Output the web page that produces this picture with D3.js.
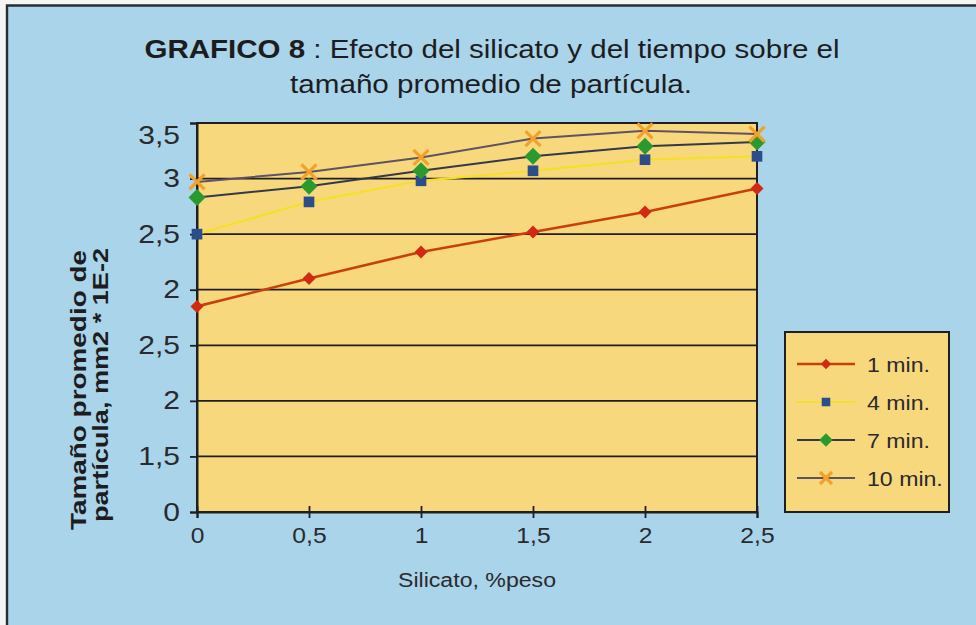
<!DOCTYPE html>
<html><head><meta charset="utf-8">
<script src="https://cdn.jsdelivr.net/npm/d3@7"></script>
<style>
html,body{margin:0;padding:0;background:#fff;}
svg{display:block;font-family:"Liberation Sans",Arial,Helvetica,sans-serif;}
</style>
</head><body>
<svg id="chart" width="976" height="625"></svg>
<script>
// Silicate content (% weight) on the x axis
const silicato = [0, 0.5, 1, 1.5, 2, 2.5];
const xTickLabels = ["0", "0,5", "1", "1,5", "2", "2,5"];
// Y axis gridline positions and the labels printed next to them
const yTickValues = [0, 0.5, 1, 1.5, 2, 2.5, 3, 3.5];
const yTickLabels = ["0", "1,5", "2", "2,5", "2", "2,5", "3", "3,5"];

// Mean particle size (mm2 * 1E-2) for each mixing time
const seriesNames = ["1 min.", "4 min.", "7 min.", "10 min."];
const min1  = [1.85, 2.10, 2.34, 2.52, 2.70, 2.91];
const min4  = [2.50, 2.79, 2.98, 3.07, 3.17, 3.20];
const min7  = [2.83, 2.93, 3.07, 3.20, 3.29, 3.33];
const min10 = [2.97, 3.06, 3.19, 3.36, 3.43, 3.40];

const seriesStyles = [
  {values: min1,  line: "#c9400e", lw: 2.6, marker: "diamond", fill: "#d22a12", size: 13},
  {values: min4,  line: "#f4e02c", lw: 2.2, marker: "square",  fill: "#2c4d8c", size: 13},
  {values: min7,  line: "#34394a", lw: 2.0, marker: "diamond", fill: "#2b9a2e", size: 17},
  {values: min10, line: "#5e5264", lw: 2.0, marker: "x",       fill: "#f2a22a", size: 15}
];

const svg = d3.select("#chart");
const W = 976, H = 625;

// Widen text to the proportions of the printed typeface
function stretch(sel, k) {
  sel.each(function () {
    const w = this.getComputedTextLength();
    this.setAttribute("textLength", (w * k).toFixed(1));
    this.setAttribute("lengthAdjust", "spacingAndGlyphs");
  });
}
function fitTo(sel, len) {
  sel.attr("textLength", len).attr("lengthAdjust", "spacingAndGlyphs");
}

// Page background and frame
svg.append("rect").attr("width", W).attr("height", H).attr("fill", "#f4f6f6");
svg.append("rect").attr("x", 7).attr("y", 5).attr("width", W).attr("height", H)
  .attr("fill", "#a9d4ea");
svg.append("path").attr("d", `M7,${H} V5.5 H${W}`)
  .attr("fill", "none").attr("stroke", "#2a2c30").attr("stroke-width", 2.4);

// Title
const t1 = svg.append("text").attr("x", 492).attr("y", 58)
  .attr("text-anchor", "middle").attr("font-size", 26).attr("fill", "#1d1d1f");
t1.append("tspan").attr("font-weight", "bold").text("GRAFICO 8");
t1.append("tspan").text(" : Efecto del silicato y del tiempo sobre el");
fitTo(t1, 695);
const t2 = svg.append("text").attr("x", 491).attr("y", 93)
  .attr("text-anchor", "middle").attr("font-size", 26).attr("fill", "#1d1d1f")
  .text("tamaño promedio de partícula.");
fitTo(t2, 402);

// Plot area
const plot = {left: 197, right: 757, top: 123, bottom: 512};
const x = d3.scaleLinear().domain([0, 2.5]).range([plot.left, plot.right]);
const y = d3.scaleLinear().domain([0, 3.5]).range([plot.bottom, plot.top]);

svg.append("rect").attr("x", plot.left).attr("y", plot.top)
  .attr("width", plot.right - plot.left).attr("height", plot.bottom - plot.top)
  .attr("fill", "#f8d87c");

// Horizontal gridlines
svg.append("g").selectAll("line").data(yTickValues).join("line")
  .attr("x1", plot.left).attr("x2", plot.right)
  .attr("y1", d => y(d)).attr("y2", d => y(d))
  .attr("stroke", "#1f1f1f").attr("stroke-width", 1.8);

// Plot border
svg.append("rect").attr("x", plot.left).attr("y", plot.top)
  .attr("width", plot.right - plot.left).attr("height", plot.bottom - plot.top)
  .attr("fill", "none").attr("stroke", "#1f1f1f").attr("stroke-width", 2);

// Y axis
const yAxis = svg.append("g").attr("transform", `translate(${plot.left},0)`)
  .call(d3.axisLeft(y).tickValues(yTickValues).tickSize(7).tickPadding(10)
    .tickFormat((d, i) => yTickLabels[i]));
yAxis.select(".domain").attr("stroke", "#1f1f1f").attr("stroke-width", 2);
yAxis.selectAll(".tick line").attr("stroke", "#1f1f1f").attr("stroke-width", 1.8);
yAxis.selectAll(".tick text").attr("font-size", 25).attr("fill", "#2a2a2e")
  .attr("font-family", "Liberation Sans, Arial, sans-serif");
yAxis.selectAll(".tick text").filter(d => d === 3.5).attr("dy", "0.8em");
stretch(yAxis.selectAll(".tick text"), 1.2);

// X axis
const xAxis = svg.append("g").attr("transform", `translate(0,${plot.bottom})`)
  .call(d3.axisBottom(x).tickValues(silicato).tickSize(6).tickPadding(9)
    .tickFormat((d, i) => xTickLabels[i]));
xAxis.select(".domain").attr("stroke", "#1f1f1f").attr("stroke-width", 2);
xAxis.selectAll(".tick line").attr("y1", -6).attr("stroke", "#1f1f1f").attr("stroke-width", 1.8);
xAxis.selectAll(".tick text").attr("font-size", 22).attr("fill", "#2a2a2e")
  .attr("font-family", "Liberation Sans, Arial, sans-serif");
stretch(xAxis.selectAll(".tick text"), 1.12);

// Axis titles
const xt = svg.append("text").attr("x", 477).attr("y", 587).attr("text-anchor", "middle")
  .attr("font-size", 20).attr("fill", "#2a2a2e").text("Silicato, %peso");
fitTo(xt, 158);
const yt1 = svg.append("text").attr("transform", "translate(86,390) rotate(-90)")
  .attr("text-anchor", "middle").attr("font-size", 22).attr("font-weight", "bold")
  .attr("fill", "#1d1d1f").text("Tamaño promedio de");
fitTo(yt1, 280);
const yt2 = svg.append("text").attr("transform", "translate(108,385) rotate(-90)")
  .attr("text-anchor", "middle").attr("font-size", 22).attr("font-weight", "bold")
  .attr("fill", "#1d1d1f").text("partícula, mm2 * 1E-2");
fitTo(yt2, 274);

// Marker drawing
function drawMarker(g, s, cx, cy, scale) {
  const r = s.size * scale / 2;
  if (s.marker === "diamond") {
    g.append("path").attr("d", `M${cx},${cy - r}L${cx + r},${cy}L${cx},${cy + r}L${cx - r},${cy}Z`)
      .attr("fill", s.fill);
  } else if (s.marker === "square") {
    const h = r * 0.82;
    g.append("rect").attr("x", cx - h).attr("y", cy - h).attr("width", 2 * h).attr("height", 2 * h)
      .attr("fill", s.fill);
  } else {
    g.append("path").attr("d", `M${cx - r},${cy - r}L${cx + r},${cy + r}M${cx - r},${cy + r}L${cx + r},${cy - r}`)
      .attr("stroke", s.fill).attr("stroke-width", 3.2).attr("fill", "none");
  }
}

// Series lines and markers
const line = d3.line().x((d, i) => x(silicato[i])).y(d => y(d));
seriesStyles.forEach(s => {
  svg.append("path").datum(s.values).attr("d", line)
    .attr("fill", "none").attr("stroke", s.line).attr("stroke-width", s.lw)
    .attr("stroke-linejoin", "round");
});
seriesStyles.forEach(s => {
  const g = svg.append("g");
  s.values.forEach((v, i) => drawMarker(g, s, x(silicato[i]), y(v), 1));
});

// Legend
const lg = svg.append("g");
lg.append("rect").attr("x", 785).attr("y", 332).attr("width", 164).attr("height", 180)
  .attr("fill", "#f8d87c").attr("stroke", "#1f1f1f").attr("stroke-width", 2);
seriesStyles.forEach((s, i) => {
  const cy = 364 + i * 38;
  lg.append("line").attr("x1", 797).attr("x2", 855).attr("y1", cy).attr("y2", cy)
    .attr("stroke", s.line).attr("stroke-width", s.lw);
  drawMarker(lg, s, 826, cy, 0.8);
  const tx = lg.append("text").attr("x", 867).attr("y", cy + 8).attr("font-size", 21)
    .attr("fill", "#2a2a2e").text(seriesNames[i]);
  stretch(tx, 1.1);
});
</script>
</body></html>
